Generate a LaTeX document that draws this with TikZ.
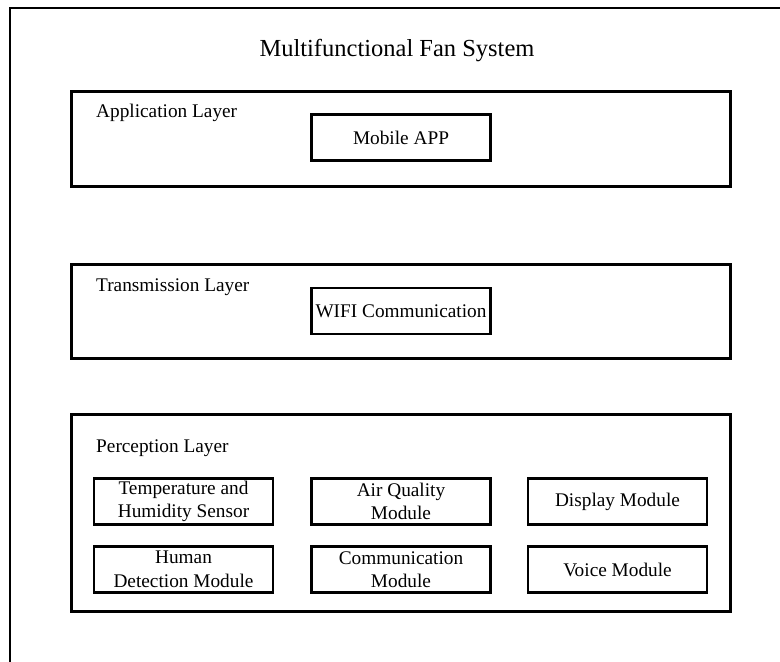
\documentclass[tikz,border=0pt]{standalone}
\usepackage{fontspec}
\setmainfont{Liberation Serif}
\usetikzlibrary{positioning}
\tikzset{
  % rahmen
  frame/.style={draw=black,line width=2.3pt},
  layer/.style={draw=black,line width=2.1pt,minimum width=659pt,inner sep=0pt},
  lname/.style={anchor=base west,inner sep=0pt,font=\fontsize{19.3}{23}\selectfont},
  ttl/.style={anchor=base,inner sep=0pt,font=\fontsize{24.5}{28}\selectfont},
  % module
  mod/.style={draw=black,line width=2.1pt,minimum width=179pt,minimum height=46pt,
              inner sep=0pt,align=center,font=\fontsize{19.3}{23.5}\selectfont},
}
\begin{document}
\begin{tikzpicture}[x=1pt,y=-1pt]
  \useasboundingbox (0,0) rectangle (780,662);
  \draw[frame] (10,662) -- (10,8) -- (780,8);
  \node[ttl] (title) at (397,56) {Multifunctional Fan System};
  % schichten
  \node[layer,minimum height=95pt] (app) at (401,139) {};
  \node[layer,minimum height=94pt] (trans) at (401,311.5) {};
  \node[layer,minimum height=197pt] (perc) at (401,513) {};
  \node[lname] (appname) at (96,117) {Application Layer};
  \node[lname] (transname) at (96,291) {Transmission Layer};
  \node[lname] (percname) at (96,452) {Perception Layer};
  % module
  \node[mod] (mobile) at (401,137.5) {Mobile APP};
  \node[mod] (wifi) at (401,311) {WIFI Communication};
  \node[mod] (temp) at (183.5,501.5) {Temperature and\\Humidity Sensor};
  \node[mod] (air) at (401,501.5) {Air Quality\\Module};
  \node[mod] (disp) at (617.5,501.5) {Display Module};
  \node[mod] (human) at (183.5,569.5) {Human\\Detection Module};
  \node[mod] (comm) at (401,569.5) {Communication\\Module};
  \node[mod] (voice) at (617.5,569.5) {Voice Module};
\end{tikzpicture}
\end{document}
